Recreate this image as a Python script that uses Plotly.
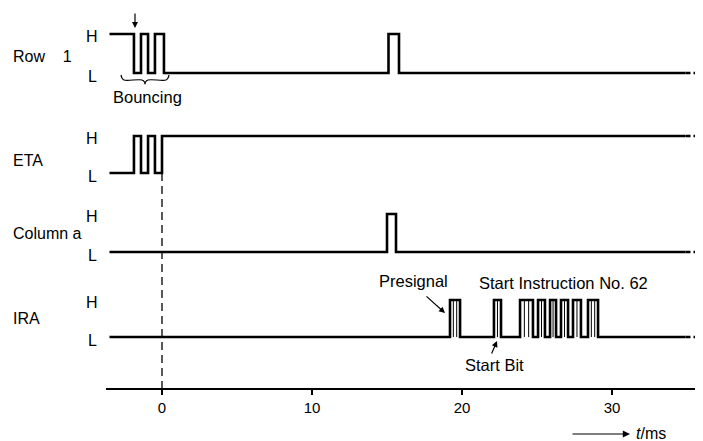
import plotly.graph_objects as go

# ---------------- data (times in ms) ----------------
t_start = -3.5          # where the traces begin
t_solid_end = 34.9      # solid part ends, dashed continuation afterwards
t_end = 36.6

row1_initial = 1
row1_edges = [-1.87, -1.4, -0.93, -0.47, 0.13, 15.1, 15.8]

eta_initial = 0
eta_edges = [-1.87, -1.4, -0.93, -0.47, 0.0]

cola_initial = 0
cola_edges = [15.0, 15.6]

ira_initial = 0
ira_edges = [19.2, 19.87, 22.13, 22.6, 23.87, 24.73, 25.07, 25.53,
             25.87, 26.27, 26.6, 27.07, 27.4, 27.93, 28.4, 29.07]

signal_names = ["Row\u00a0\u00a0\u00a0\u00a01", "ETA", "Column a", "IRA"]
tick_values = [0, 10, 20, 30]
tick_labels = ["0", "10", "20", "30"]

# ---------------- layout helpers (pixel space) ----------------
W, H = 703, 441
X0_PX, PX_PER_MS = 154, 15.0
AX_LEFT_PX = 98
AXIS_Y = 381
ROW_L = [65, 165, 244, 329]     # pixel y of L level
ROW_H = [26, 128, 206, 292]     # pixel y of H level
LABEL_Y = [48, 152, 225, 310]
HL_LABEL_X = 84
FONT = "Liberation Sans, Arial, sans-serif"


def px2t(px):
    return (px - X0_PX) / PX_PER_MS


def step(initial, edges, row):
    lvl = initial
    xs, ys = [t_start], [lvl]
    for e in edges:
        xs += [e, e]
        ys += [lvl, 1 - lvl]
        lvl = 1 - lvl
    xs.append(t_solid_end)
    ys.append(lvl)
    ypx = [ROW_L[row] - v * (ROW_L[row] - ROW_H[row]) for v in ys]
    return xs, ypx, lvl


fig = go.Figure()
signals = [(row1_initial, row1_edges), (eta_initial, eta_edges),
           (cola_initial, cola_edges), (ira_initial, ira_edges)]
for i, (ini, edges) in enumerate(signals):
    xs, ys, last = step(ini, edges, i)
    fig.add_trace(go.Scatter(x=xs, y=ys, mode="lines",
                             line=dict(color="black", width=2.6),
                             hoverinfo="skip", showlegend=False))
    # dashed continuation
    fig.add_trace(go.Scatter(x=[t_solid_end, t_end], y=[ys[-1], ys[-1]],
                             mode="lines",
                             line=dict(color="black", width=2.6, dash="5px,3px"),
                             hoverinfo="skip", showlegend=False))

# carrier hatching inside IRA pulses
hx, hy = [], []
for a, b in zip(ira_edges[0::2], ira_edges[1::2]):
    n = max(2, int(round((b - a) / 0.25)))
    for k in range(1, n):
        xx = a + (b - a) * k / n
        hx += [xx, xx, None]
        hy += [ROW_L[3], ROW_H[3], None]
fig.add_trace(go.Scatter(x=hx, y=hy, mode="lines",
                         line=dict(color="black", width=1),
                         hoverinfo="skip", showlegend=False))

# dashed vertical line at t = 0
fig.add_trace(go.Scatter(x=[0, 0], y=[ROW_L[1], AXIS_Y], mode="lines",
                         line=dict(color="black", width=1.3, dash="8px,5px"),
                         hoverinfo="skip", showlegend=False))

# brace under bouncing
bx = [113, 114, 116, 134, 136.5, 137, 137.5, 140, 158, 160, 161]
by = [67, 70, 72, 72, 74, 76, 74, 72, 72, 70, 67]
fig.add_trace(go.Scatter(x=[px2t(v) for v in bx], y=by, mode="lines",
                         line=dict(color="black", width=1.2, shape="spline"),
                         hoverinfo="skip", showlegend=False))

lab = dict(size=16, family=FONT, color="black")
ann = []
for name, y in zip(signal_names, LABEL_Y):
    ann.append(dict(x=3 / W, xref="paper", y=y, yref="y", text=name,
                    showarrow=False, xanchor="left", yanchor="middle",
                    font=lab))
for i in range(4):
    ann.append(dict(x=HL_LABEL_X / W, xref="paper", y=ROW_H[i] + 2, yref="y",
                    text="H", showarrow=False, xanchor="center", font=lab))
    ann.append(dict(x=HL_LABEL_X / W, xref="paper", y=ROW_L[i] + 3, yref="y",
                    text="L", showarrow=False, xanchor="center", font=lab))

txt = dict(size=16.5, family=FONT, color="black")
ann += [
    dict(x=px2t(139), y=89, text="Bouncing", showarrow=False, font=txt),
    dict(x=px2t(405), y=273, text="Presignal", showarrow=False, font=txt),
    dict(x=px2t(555), y=275, text="Start Instruction No. 62", showarrow=False, font=txt),
    dict(x=px2t(486), y=357, text="Start Bit", showarrow=False, font=txt),
    # arrows
    dict(x=px2t(127), y=20, ax=0, ay=-16, text="", showarrow=True,
         arrowhead=2, arrowsize=1, arrowwidth=1.2, arrowcolor="black"),
    dict(x=px2t(437), y=305, ax=-20, ay=-18, text="", showarrow=True,
         arrowhead=2, arrowsize=1, arrowwidth=1.2, arrowcolor="black"),
    dict(x=px2t(489), y=333, ax=-6, ay=14, text="", showarrow=True,
         arrowhead=2, arrowsize=1, arrowwidth=1.2, arrowcolor="black"),
    dict(x=px2t(622), y=426, ax=-59, ay=0, text="", showarrow=True,
         arrowhead=2, arrowsize=1.2, arrowwidth=1.2, arrowcolor="black"),
    dict(x=px2t(626), y=425, text="<i>t</i>/ms", showarrow=False,
         xanchor="left", yanchor="middle",
         font=dict(size=16, family=FONT, color="black")),
]
for a in ann:
    a.setdefault("xref", "x")
    a.setdefault("yref", "y")

fig.update_layout(
    width=W, height=H,
    margin=dict(l=0, r=0, t=0, b=0),
    paper_bgcolor="white", plot_bgcolor="white",
    showlegend=False,
    annotations=ann,
    xaxis=dict(domain=[AX_LEFT_PX / W, 1],
               range=[px2t(AX_LEFT_PX), px2t(W)],
               anchor="free", position=1 - AXIS_Y / H,
               showline=True, linecolor="black", linewidth=1.5,
               showgrid=False, zeroline=False,
               ticks="outside", ticklen=5, tickwidth=1.5, tickcolor="black",
               tickvals=tick_values, ticktext=tick_labels,
               tickfont=dict(size=15, family=FONT, color="black")),
    yaxis=dict(range=[H, 0], domain=[0, 1], visible=False,
               showgrid=False, zeroline=False),
)

fig.write_html("out.html")
